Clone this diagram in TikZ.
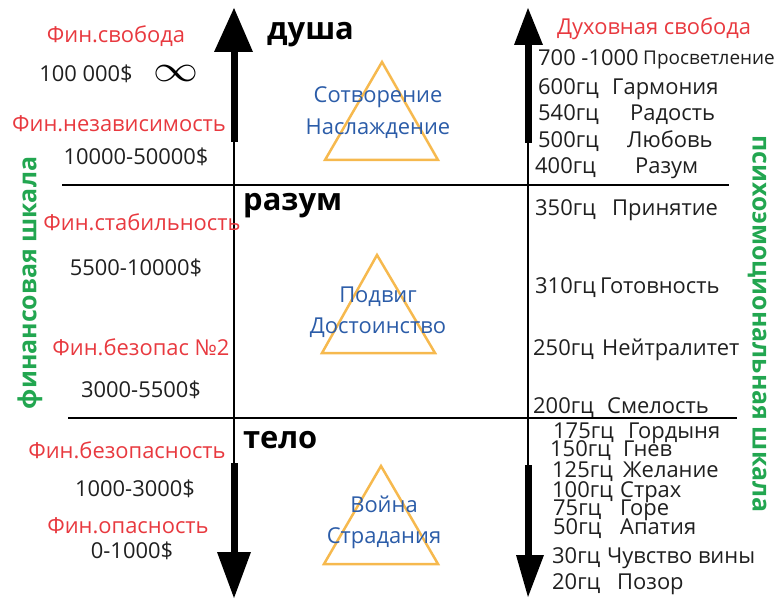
\documentclass[tikz,border=0pt]{standalone}
\usepackage{fontspec}
\setmainfont{Open Sans}
\usetikzlibrary{calc}

\definecolor{finred}{HTML}{E8393F}
\definecolor{axisgreen}{HTML}{22A650}
\definecolor{stateblue}{HTML}{2B5CA8}
\definecolor{triorange}{HTML}{F6B94E}

\begin{document}
\begin{tikzpicture}[x=1bp,y=-1bp,
	lbl/.style={inner sep=0pt,anchor=base,font=\fontsize{22}{24}\selectfont},
	fin/.style={lbl,text=finred},
	money/.style={lbl,text=black!88},
	hz/.style={lbl,anchor=base west,text=black!88},
	state/.style={lbl,text=stateblue},
	level/.style={inner sep=0pt,anchor=base west,font=\fontsize{31}{34}\selectfont\bfseries},
	axisname/.style={inner sep=0pt,text=axisgreen,font=\fontsize{25}{28}\selectfont\bfseries},
	thinaxis/.style={line width=2.5bp},
	thickaxis/.style={line width=7bp},
	tri/.style={draw=triorange,line width=2.5bp,line join=miter}]
	%%%%% START %%%%%
	
	\useasboundingbox (0,0) rectangle (782,600);
	
	% left axis
	\coordinate (ltip) at (234,8);
	\coordinate (lhead) at (234,52);
	\coordinate (lthick) at (234,142);
	\coordinate (lthick2) at (234,463);
	\coordinate (lfoot) at (234,552);
	\coordinate (lend) at (234,598);
	\fill (ltip) -- (214,52) -- (253,52) -- cycle;
	\draw[thickaxis] (lhead) -- (lthick);
	\draw[thinaxis] (lhead) -- (lfoot);
	\draw[thickaxis] (lthick2) -- (lfoot);
	\fill (lend) -- (217,552) -- (251,552) -- cycle;
	
	% right axis
	\coordinate (rtip) at (528,8);
	\coordinate (rhead) at (528,45);
	\coordinate (rthick) at (528,143);
	\coordinate (rthick2) at (528,465);
	\coordinate (rfoot) at (528,555);
	\coordinate (rend) at (528,597);
	\fill (rtip) -- (514,45) -- (543,45) -- cycle;
	\draw[thickaxis] (rhead) -- (rthick);
	\draw[thinaxis] (rhead) -- (rfoot);
	\draw[thickaxis] (rthick2) -- (rfoot);
	\fill (rend) -- (516,555) -- (544,555) -- cycle;
	
	% borders
	\coordinate (up1) at (62,185);
	\coordinate (up2) at (729,185);
	\coordinate (lo1) at (68,418);
	\coordinate (lo2) at (737,418);
	\draw[thinaxis] (up1) -- (up2);
	\draw[thinaxis] (lo1) -- (lo2);
	
	% levels
	\node[level] (soul) at (267,40) {душа};
	\node[level] (mind) at (243,211) {разум};
	\node[level] (body) at (243,448) {тело};
	
	% triangles
	\draw[tri] (382,62) -- (438,160) -- (325,160) -- cycle;
	\draw[tri] (377,255) -- (435,353) -- (322,353) -- cycle;
	\draw[tri] (381,466) -- (438,564) -- (324,564) -- cycle;
	\node[state] (s1) at (378,103) {Сотворение};
	\node[state] (s2) at (378,135) {Наслаждение};
	\node[state] (s3) at (378,302) {Подвиг};
	\node[state] (s4) at (378,333) {Достоинство};
	\node[state] (s5) at (384,512) {Война};
	\node[state] (s6) at (384,543) {Страдания};
	
	% financial scale
	\node[fin] (f1) at (116,43) {Фин.свобода};
	\node[money] (m1) at (86,82) {100 000\$};
	\node[inner sep=0pt] (inf) at (176,73) {\resizebox{45bp}{16bp}{$\infty$}};
	\node[fin] (f2) at (119,132) {Фин.независимость};
	\node[money] (m2) at (136,165) {10000-50000\$};
	\node[fin] (f3) at (142,231) {Фин.стабильность};
	\node[money] (m3) at (136,275) {5500-10000\$};
	\node[fin] (f4) at (141,355) {Фин.безопас №2};
	\node[money] (m4) at (141,397) {3000-5500\$};
	\node[fin] (f5) at (127,458) {Фин.безопасность};
	\node[money] (m5) at (135,496) {1000-3000\$};
	\node[fin] (f6) at (128,533) {Фин.опасность};
	\node[money] (m6) at (132,558) {0-1000\$};
	
	\node[axisname,rotate=90] (finscale) at (30,283) {финансовая шкала};
	\node[axisname,rotate=-90] (psyscale) at (757,324) {психоэмоциональная шкала};
	
	% hertz scale
	\node[fin,anchor=base west] (dfree) at (557,35) {Духовная свобода};
	\node[hz] (h700) at (538,66) {700 -1000};
	\node[hz,font=\fontsize{19}{21}\selectfont] (e700) at (643,65) {Просветление};
	\node[hz] (h600) at (538,95) {600гц};
	\node[hz] (e600) at (612,95) {Гармония};
	\node[hz] (h540) at (538,121) {540гц};
	\node[hz] (e540) at (630,121) {Радость};
	\node[hz] (h500) at (538,148) {500гц};
	\node[hz] (e500) at (627,148) {Любовь};
	\node[hz] (h400) at (535,174) {400гц};
	\node[hz] (e400) at (635,174) {Разум};
	\node[hz] (h350) at (535,216) {350гц};
	\node[hz] (e350) at (612,216) {Принятие};
	\node[hz] (h310) at (535,293) {310гц};
	\node[hz] (e310) at (600,293) {Готовность};
	\node[hz] (h250) at (533,355) {250гц};
	\node[hz] (e250) at (602,355) {Нейтралитет};
	\node[hz] (h200) at (533,413) {200гц};
	\node[hz] (e200) at (607,413) {Смелость};
	\node[hz] (h175) at (553,438) {175гц};
	\node[hz] (e175) at (628,438) {Гордыня};
	\node[hz] (h150) at (550,456) {150гц};
	\node[hz] (e150) at (623,456) {Гнев};
	\node[hz] (h125) at (552,477) {125гц};
	\node[hz] (e125) at (623,477) {Желание};
	\node[hz] (h100) at (552,497) {100гц};
	\node[hz] (e100) at (620,497) {Страх};
	\node[hz] (h75) at (553,515) {75гц};
	\node[hz] (e75) at (620,515) {Горе};
	\node[hz] (h50) at (553,534) {50гц};
	\node[hz] (e50) at (620,534) {Апатия};
	\node[hz] (h30) at (552,563) {30гц};
	\node[hz] (e30) at (607,563) {Чувство вины};
	\node[hz] (h20) at (552,589) {20гц};
	\node[hz] (e20) at (617,589) {Позор};
	
	%%%%% END %%%%%
\end{tikzpicture}
\end{document}
